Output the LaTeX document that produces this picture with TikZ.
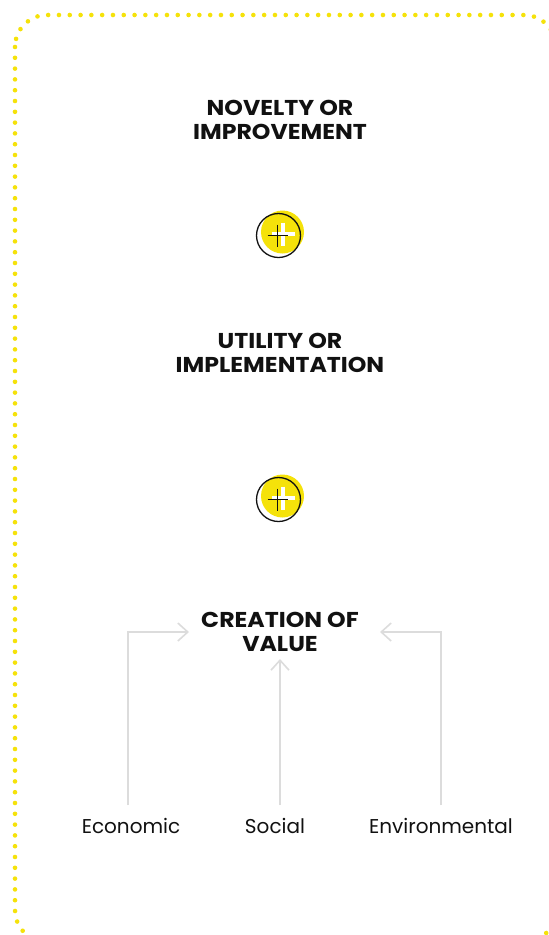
\documentclass[tikz,border=0pt]{standalone}
\usepackage{fontspec}
\setmainfont{Poppins}
\newfontfamily\headfont{Poppins}[FakeStretch=1.1]
\usetikzlibrary{arrows.meta}
\definecolor{brandyellow}{HTML}{F5E20A}
\definecolor{linegray}{HTML}{DCDCDC}
\definecolor{ink}{HTML}{111111}
\tikzset{
  heading/.style={align=center, font=\headfont\bfseries\fontsize{21.5}{24}\selectfont, text=ink, inner sep=0pt},
  dimension/.style={font=\fontsize{20}{22}\selectfont, text=ink, inner sep=0pt},
  flow/.style={draw=linegray, line width=2pt, -{Straight Barb[length=10pt,width=18pt,line width=1.6pt]}},
  frame/.style={draw=brandyellow, line width=4.6pt, line cap=round, dash pattern=on 0pt off 10.8pt, rounded corners=32pt},
  pics/plusmark/.style={code={
    \fill[brandyellow] (4,-3.5) circle (21.5);
    \draw[ink, line width=1.3pt] (0,0) circle (22);
    \draw[white, line width=4pt] (-7,-1.5) -- (16,-1.5) (4,-13) -- (4,10);
    \draw[ink, line width=1pt] (-11,0) -- (9,0) (-1,-11) -- (-1,11);
  }}
}
\begin{document}
\begin{tikzpicture}[x=1pt, y=-1pt]
  \useasboundingbox (0,0) rectangle (549,935);
  \begin{scope}
    \clip (0,0) rectangle (549,935);
    \draw[frame] (15,15) rectangle (556,942);
  \end{scope}

  % the three stages
  \node[heading] (novelty) at (280,120) {NOVELTY OR\\IMPROVEMENT};
  \pic (plusA) at (278.5,235.5) {plusmark};
  \node[heading] (utility) at (280,353) {UTILITY OR\\IMPLEMENTATION};
  \pic (plusB) at (278.5,499.5) {plusmark};
  \node[heading] (value) at (280,632) {CREATION OF\\VALUE};

  % dimensions of value
  \node[dimension] (econ) at (131,826) {Economic};
  \node[dimension] (social) at (275,826) {Social};
  \node[dimension] (env) at (441,826) {Environmental};

  \coordinate (econTop) at (128,805);
  \coordinate (socialTop) at (280,805);
  \coordinate (envTop) at (441,805);
  \coordinate (valueLeft) at (189,632);
  \coordinate (valueBottom) at (280,659);
  \coordinate (valueRight) at (380,632);

  \draw[flow] (econTop) |- (valueLeft);
  \draw[flow] (socialTop) -- (valueBottom);
  \draw[flow] (envTop) |- (valueRight);
\end{tikzpicture}
\end{document}
